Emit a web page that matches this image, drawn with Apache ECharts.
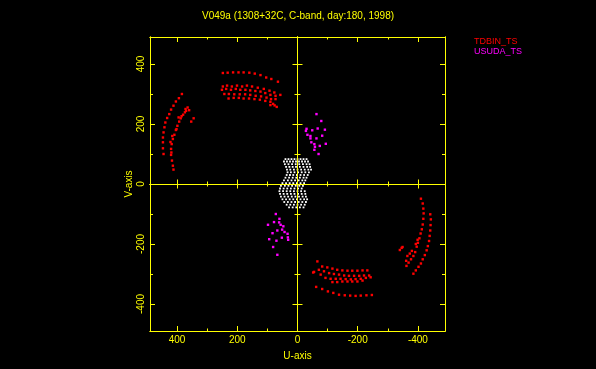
<!DOCTYPE html>
<html><head><meta charset="utf-8">
<script src="https://cdn.jsdelivr.net/npm/echarts@6/dist/echarts.min.js"></script>
<style>html,body{margin:0;padding:0;background:#000;}#chart{width:596px;height:369px;}</style>
</head><body><div id="chart"></div>
<script>
const titleText = 'V049a (1308+32C, C-band, day:180, 1998)';
const legendNames = ['TDBIN_TS', 'USUDA_TS'];
const axisNames = ['U-axis', 'V-axis'];
const axisRange = [-490, 490];
const majorStep = 200;
const minorStep = 100;

// TDBIN_TS (u, v) points
const tdbinUpperLeft = [
  [384,300],[394,286],[404,275],[412,261],[420,248],[426,233],[433,220],[439,205],[442,189],[445,172],[447,155],[447,139],[447,119],[445,100],
  [365,255],[370,244],[374,239],[380,231],[388,219],[393,208],[399,194],[404,180],[409,164],[414,150],[418,133],[420,117],[420,97],[417,78],[414,61],[412,48],
  [345,219],[353,208],[360,246],[395,222],[402,183],[416,160],[422,140],[419,105],[372,250],[385,226]
];
const tdbinTop = [
  [248,370],[232,371],[214,372],[196,372],[179,372],[160,371],[142,368],[123,363],[104,355],[87,350],[65,341],
  [248,325],[234,328],[218,325],[201,328],[184,325],[168,328],[151,325],[132,321],[112,317],[93,311],[77,305],
  [251,314],[237,317],[221,314],[205,317],[190,314],[173,314],[157,312],[140,310],[123,308],[107,303],[90,297],[73,294],
  [243,300],[228,300],[210,299],[192,299],[174,299],[157,297],[139,294],[121,292],[103,288],[88,283],
  [229,285],[212,287],[195,287],[179,285],[161,285],[143,283],[125,281],[107,277],[90,274],[73,283],[57,297],
  [90,263],[81,267],[69,257],[76,262]
];
const tdbinLowerRight = [
  [-410,-49],[-416,-65],[-418,-82],[-419,-98],[-418,-116],[-416,-135],[-413,-151],[-409,-165],[-405,-181],[-400,-196],[-396,-209],[-391,-227],[-385,-240],[-377,-251],[-369,-262],[-362,-273],
  [-441,-101],[-443,-118],[-442,-137],[-441,-155],[-439,-173],[-437,-190],[-433,-207],[-429,-221],[-423,-237],[-416,-251],[-410,-265],[-402,-276],[-393,-288],[-385,-299],
  [-349,-210],[-340,-220],[-365,-240],[-380,-223],[-399,-186],[-393,-200],[-373,-232],[-346,-213],[-361,-256]
];
const tdbinBottom = [
  [-62,-343],[-82,-350],[-101,-358],[-119,-363],[-138,-369],[-157,-371],[-175,-372],[-193,-373],[-210,-372],[-229,-371],[-247,-370],
  [-66,-258],[-82,-275],[-99,-278],[-116,-282],[-132,-286],[-149,-288],[-166,-289],[-182,-289],[-199,-289],[-216,-288],[-232,-288],
  [-55,-293],[-71,-286],[-88,-291],[-105,-297],[-121,-300],[-138,-302],[-155,-305],[-171,-306],[-188,-306],[-205,-306],[-221,-305],[-238,-305],
  [-77,-302],[-93,-313],[-110,-316],[-127,-316],[-143,-316],[-160,-317],[-177,-318],[-193,-317],[-210,-316],[-227,-313],[-243,-311],
  [-116,-327],[-132,-327],[-149,-325],[-166,-325],[-182,-325],[-199,-325],[-216,-322],[-52,-295]
];
// USUDA_TS (u, v) points
const usudaUpper = [
  [-63,233],[-79,210],[-30,184],[-28,177],[-49,179],[-67,185],[-91,181],[-33,164],[-82,161],[-43,152],
  [-63,152],[-43,160],[-46,139],[-56,133],[-94,134],[-74,127],[-58,124],[-70,100],[-56,114]
];
const usudaLower = [
  [72,-100],[60,-116],[98,-136],[78,-127],[61,-128],[56,-136],[47,-141],[51,-152],[67,-155],[83,-164],
  [43,-160],[33,-166],[32,-178],[52,-179],[94,-184],[70,-189],[31,-186],[81,-210],[67,-236]
];
// short-baseline points near the origin (white)
const centreRows = [
  [83, [40,30,20,10,0,-10,-20,-30]],
  [75, [45,35,25,15,5,-5,-15,-25,-35]],
  [66, [42,30,18,6,-6,-18,-30,-40]],
  [57, [38,27,16,5,-8,-20,-32,-42]],
  [48, [35,24,12,0,-12,-24,-36,-45]],
  [39, [33,22,10,-2,-14,-26,-38]],
  [30, [36,25,14,2,-10,-22,-34]],
  [21, [40,28,16,4,-8,-20,-30]],
  [12, [45,32,20,8,-4,-16,-26]],
  [3, [50,38,26,14,2,-10,-22]],
  [-6, [55,42,30,18,6,-6,-18]],
  [-15, [58,46,34,22,10,-2,-14]],
  [-24, [60,48,36,24,12,0,-12,-24]],
  [-33, [58,46,34,22,10,-2,-14,-26]],
  [-42, [55,43,31,19,7,-5,-17,-28]],
  [-51, [50,38,26,14,2,-10,-22,-32]],
  [-60, [44,32,20,8,-4,-16,-28]],
  [-69, [36,24,12,0,-12,-24]],
  [-78, [28,16,4,-8,-20]]
];

const centrePts = [];
centreRows.forEach(function (r) { r[1].forEach(function (u) { centrePts.push([u, r[0]]); }); });

const YEL = '#ffff00';
const FONT = 'Liberation Sans';
const ls = { color: YEL, width: 1 };

function axis(dim, pos, step, tickLen, inside, onZero, extra) {
  const a = {
    type: 'value', position: pos,
    min: axisRange[0], max: axisRange[1],
    minInterval: step, maxInterval: step,
    splitNumber: step === majorStep ? 5 : 10,
    inverse: dim === 'x',
    z: 5,
    axisLine: { show: true, onZero: onZero, lineStyle: ls },
    axisTick: { show: true, inside: inside, length: tickLen, lineStyle: ls },
    axisLabel: { show: false },
    splitLine: { show: false },
    minorTick: { show: false }
  };
  if (onZero) a.axisLine.onZeroAxisIndex = 0;
  return Object.assign(a, extra || {});
}

const labelStyle = { show: true, color: YEL, fontSize: 10, fontFamily: FONT, margin: 4, showMinLabel: false, showMaxLabel: false };
const nameStyle = { color: YEL, fontSize: 10, fontFamily: FONT };

const xAxes = [
  axis('x', 'bottom', majorStep, 5, true, false, { axisLabel: labelStyle, name: axisNames[0], nameLocation: 'middle', nameGap: 20, nameTextStyle: nameStyle }),
  axis('x', 'bottom', minorStep, 2.5, true, false),
  axis('x', 'top', majorStep, 5, true, false),
  axis('x', 'top', minorStep, 2.5, true, false),
  axis('x', 'bottom', majorStep, 4.5, true, true),
  axis('x', 'bottom', majorStep, 4.5, false, true),
  axis('x', 'bottom', minorStep, 2.5, true, true),
  axis('x', 'bottom', minorStep, 2.5, false, true)
];
const yAxes = [
  axis('y', 'left', majorStep, 5, true, false, { axisLabel: Object.assign({}, labelStyle, { rotate: 90 }), name: axisNames[1], nameLocation: 'middle', nameGap: 16, nameTextStyle: nameStyle }),
  axis('y', 'left', minorStep, 3, true, false),
  axis('y', 'right', majorStep, 5, true, false),
  axis('y', 'right', minorStep, 3, true, false),
  axis('y', 'left', majorStep, 5, true, true),
  axis('y', 'left', majorStep, 5, false, true),
  axis('y', 'left', minorStep, 3, true, true),
  axis('y', 'left', minorStep, 3, false, true)
];

const chart = echarts.init(document.getElementById('chart'), null, { renderer: 'canvas' });
chart.setOption({
  backgroundColor: '#000000',
  animation: false,
  title: {
    text: titleText, left: 'center', top: 11, padding: 0,
    textStyle: { color: YEL, fontSize: 10, fontWeight: 'normal', fontFamily: FONT }
  },
  legend: {
    orient: 'vertical', left: 469, top: 37, padding: 0,
    icon: 'none', itemWidth: 0, itemHeight: 10, itemGap: 0,
    selectedMode: false,
    textStyle: { fontSize: 9, fontFamily: FONT },
    data: [
      { name: legendNames[0], textStyle: { color: '#ff0000' } },
      { name: legendNames[1], textStyle: { color: '#ff00ff' } }
    ]
  },
  grid: { left: 150, top: 37, width: 295, height: 294 },
  xAxis: xAxes,
  yAxis: yAxes,
  series: [
    { type: 'scatter', name: 'short', data: centrePts, symbol: 'rect', symbolSize: 1.8, itemStyle: { color: '#ffffff', opacity: 1 }, silent: true },
    { type: 'scatter', name: legendNames[0], data: tdbinUpperLeft.concat(tdbinTop, tdbinLowerRight, tdbinBottom), symbol: 'rect', symbolSize: 2.4, itemStyle: { color: '#ff0000', opacity: 1 }, silent: true },
    { type: 'scatter', name: legendNames[1], data: usudaUpper.concat(usudaLower), symbol: 'rect', symbolSize: 2.4, itemStyle: { color: '#ff00ff', opacity: 1 }, silent: true }
  ]
});
</script>
</body></html>
